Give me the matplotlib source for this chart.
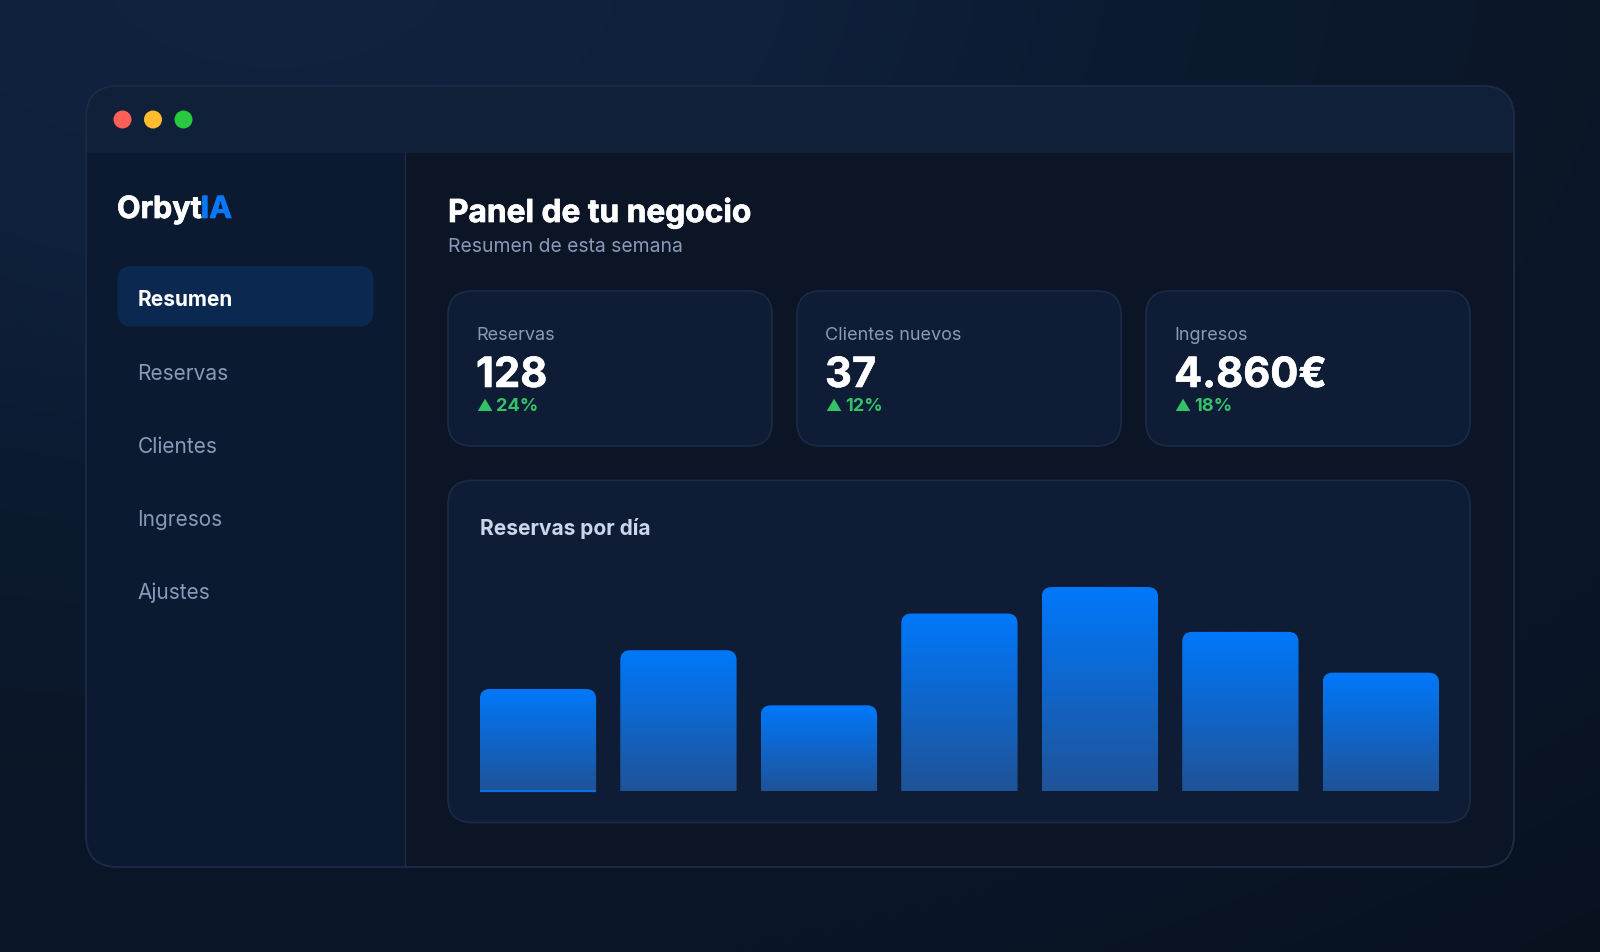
import matplotlib
matplotlib.use("Agg")
import matplotlib.pyplot as plt
import matplotlib.patheffects as pe
import numpy as np
from matplotlib.colors import LinearSegmentedColormap
from matplotlib.patches import FancyBboxPatch, PathPatch, Rectangle, Circle
from matplotlib.path import Path

plt.rcParams['font.family'] = ['Inter', 'DejaVu Sans']

# datos
days = [0, 1, 2, 3, 4, 5, 6]
bookings = [50, 69, 42, 87, 100, 78, 58]
nav_items = ["Resumen", "Reservas", "Clientes", "Ingresos", "Ajustes"]
kpi_labels = ["Reservas", "Clientes nuevos", "Ingresos"]
kpi_values = ["128", "37", "4.860€"]
kpi_deltas = ["24%", "12%", "18%"]

W, H = 1600, 953
BORDER = '#1b2b47'
CARD = '#0e1d35'
MUTED = '#8a99b8'

fig = plt.figure(figsize=(W / 100, H / 100), dpi=100)

# capa de fondo en pixeles
bg = fig.add_axes([0, 0, 1, 1])
bg.set_axis_off()


def rounded(x0, y0, x1, y1, r, face, edge=BORDER, lw=1.0, z=2):
    p = FancyBboxPatch((x0, y0), x1 - x0, y1 - y0,
                       boxstyle=f"round,pad=0,rounding_size={r}",
                       facecolor=face, edgecolor=edge, linewidth=lw, zorder=z)
    bg.add_patch(p)
    return p


def label(x, y, s, size, color, weight='normal', stroke=0, **kw):
    t = bg.text(x, y, s, fontsize=size, color=color, fontweight=weight,
                va='baseline', ha='left', zorder=5, **kw)
    if stroke:
        # los titulos del original son mas gruesos
        t.set_path_effects([pe.withStroke(linewidth=stroke, foreground=color)])
    return t


# gradiente del fondo
yy, xx = np.mgrid[0:1:96j, 0:1:160j]
d = np.sqrt((xx - 0.17) ** 2 + ((yy + 0.05) / 1.05) ** 2)
bg_cmap = LinearSegmentedColormap.from_list(
    'bg', [(0, '#11233f'), (0.25, '#0f203a'), (0.4, '#0c1b32'),
           (0.65, '#0b1627'), (0.8, '#0a1528'), (1, '#08121f')])
bg.imshow(d / 1.3, cmap=bg_cmap, vmin=0, vmax=1, aspect='auto',
          extent=[0, W, H, 0], zorder=0, interpolation='bilinear')
bg.set_xlim(0, W)
bg.set_ylim(H, 0)
bg.add_patch(Rectangle((0, 0), W, 1.2, facecolor='#8b919c', edgecolor='none', zorder=1))

# ventana
win = rounded(86, 87, 1514, 868, 32, '#0b1526', lw=1.2)
bar_top = Rectangle((86, 87), 1428, 67, facecolor='#0f2038', edgecolor='none', zorder=2)
side = Rectangle((86, 154), 319, 714, facecolor='#0b1a30', edgecolor='none', zorder=2)
for p in (bar_top, side):
    bg.add_patch(p)
    p.set_clip_path(win)
bg.plot([405, 405], [154, 868], color=BORDER, lw=1.0, zorder=3)
# repaso del borde sobre los paneles
rounded(86, 87, 1514, 868, 32, 'none', lw=1.2, z=3)

for cx, c in zip([122.5, 153, 183.5], ['#ff5f57', '#febc2e', '#28c840']):
    bg.add_patch(Circle((cx, 120.5), 9, facecolor=c, edgecolor='none', zorder=4))

# barra lateral
t = label(117, 219, "Orbyt", 22, 'white', 'bold', stroke=0.5)
bg.figure.canvas.draw()
ext = t.get_window_extent().transformed(bg.transData.inverted())
label(ext.x1 - 1, 219, "IA", 22, '#0a78f5', 'bold', stroke=0.5)

rounded(117.5, 267, 373.5, 327.5, 14, '#0a2850', edge='none', lw=0)
nav_y = [306, 380, 453, 526, 599]
for i, (s, y) in enumerate(zip(nav_items, nav_y)):
    if i == 0:
        label(138, y, s, 15, 'white', 'bold')
    else:
        label(137.5, y, s, 15, MUTED)

# cabecera
label(448, 223, "Panel de tu negocio", 22.8, 'white', 'bold', stroke=0.5)
label(448, 252, "Resumen de esta semana", 13.9, MUTED)

# tarjetas
card_x = [448, 797, 1146]
for x, name, val, delta in zip(card_x, kpi_labels, kpi_values, kpi_deltas):
    rounded(x, 292, x + 324, 447, 24, CARD, lw=1.2)
    label(x + 28, 340, name, 13, MUTED)
    label(x + 28, 388, val, 30, 'white', 'bold', stroke=0.4)
    label(x + 28, 411, "▲", 11.5, '#34c268')
    label(x + 48, 411, delta, 13.1, '#34c268', 'bold')

# tarjeta del grafico
rounded(448, 481.5, 1470, 823.5, 24, CARD, lw=1.2)
label(480, 535, "Reservas por día", 15, '#cbd6ea', 'bold')

# barras en su propio eje
AX_X0, AX_X1, AX_Y0, AX_Y1 = 479.8, 1439.0, 792.0, 588.0
ax = fig.add_axes([AX_X0 / W, 1 - AX_Y0 / H, (AX_X1 - AX_X0) / W, (AX_Y0 - AX_Y1) / H])
ax.set_axis_off()
bar_w = 0.828
ax.set_xlim(days[0] - bar_w / 2, days[-1] + bar_w / 2)
ax.set_ylim(0, max(bookings))

px_x = (AX_X1 - AX_X0) / (ax.get_xlim()[1] - ax.get_xlim()[0])
px_y = (AX_Y0 - AX_Y1) / max(bookings)
rx, ry = 10 / px_x, 10 / px_y
grad_cmap = LinearSegmentedColormap.from_list('bar', ['#0078fb', '#1f5398'])
grad = np.linspace(0, 1, 128).reshape(-1, 1)

for d_i, v in zip(days, bookings):
    x0, x1 = d_i - bar_w / 2, d_i + bar_w / 2
    verts = [(x0, 0), (x0, v - ry), (x0, v), (x0 + rx, v), (x1 - rx, v), (x1, v),
             (x1, v - ry), (x1, 0), (x0, 0)]
    codes = [Path.MOVETO, Path.LINETO, Path.CURVE3, Path.CURVE3, Path.LINETO,
             Path.CURVE3, Path.CURVE3, Path.LINETO, Path.CLOSEPOLY]
    patch = PathPatch(Path(verts, codes), facecolor='none', edgecolor='none')
    ax.add_patch(patch)
    im = ax.imshow(grad, cmap=grad_cmap, aspect='auto', extent=[x0, x1, 0, v],
                   interpolation='bilinear', zorder=2)
    im.set_clip_path(patch)

ax.set_xlim(days[0] - bar_w / 2, days[-1] + bar_w / 2)
ax.set_ylim(0, max(bookings))
ax.plot([days[0] - bar_w / 2, days[0] + bar_w / 2], [0, 0], color='#0a6fe8', lw=1.6,
        zorder=3, clip_on=False, solid_capstyle='butt')

fig.savefig('out.png', dpi=100, facecolor='#0a1527')
